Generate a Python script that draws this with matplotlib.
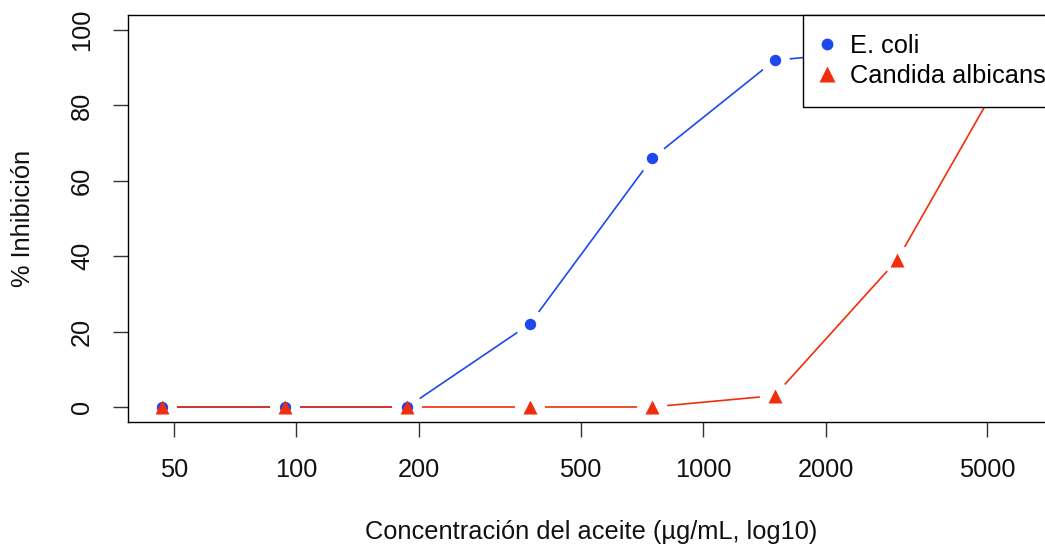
import numpy as np
import matplotlib
matplotlib.use('Agg')
import matplotlib.pyplot as plt
from matplotlib.lines import Line2D
from matplotlib.ticker import NullLocator

# datos (concentraciones en serie doble)
conc = [46.875, 93.75, 187.5, 375, 750, 1500, 3000, 6000]
ecoli = [0, 0, 0, 22, 66, 92, 95, 100]
candida = [0, 0, 0, 0, 0, 3, 39, 96]
xticks = [50, 100, 200, 500, 1000, 2000, 5000]
yticks = [0, 20, 40, 60, 80, 100]

azul = '#1c48ee'
rojo = '#f12d0c'
fs = 18.3

plt.rcParams['font.family'] = ['Liberation Sans', 'DejaVu Sans']

fig = plt.figure(figsize=(10.45, 5.47), dpi=100)
ax = fig.add_axes([128 / 1045, (547 - 422) / 547, 926 / 1045, 407 / 547])
ax.set_xscale('log')

# limites como en R (4% extra)
lx = np.log10(conc)
span = lx.max() - lx.min()
ax.set_xlim(10 ** (lx.min() - 0.04 * span), 10 ** (lx.max() + 0.04 * span))
ax.set_ylim(-4, 104)
ax.set_autoscale_on(False)


def tipo_b(x, y, color, marker, ms, gap=15):
    # lineas con hueco alrededor de los puntos (type="b")
    pts = ax.transData.transform(np.column_stack([x, y]))
    inv = ax.transData.inverted()
    for p, q in zip(pts[:-1], pts[1:]):
        d = q - p
        L = np.hypot(*d)
        if L <= 2 * gap:
            continue
        u = d / L
        a = inv.transform(p + u * gap)
        b = inv.transform(q - u * gap)
        ax.plot([a[0], b[0]], [a[1], b[1]], color=color, lw=1.2,
                solid_capstyle='butt')
    ax.plot(x, y, linestyle='none', marker=marker, ms=ms, color=color,
            mec='none')


tipo_b(conc, ecoli, azul, 'o', 8.2)
tipo_b(conc, candida, rojo, '^', 10.5)

ax.set_xticks(xticks)
ax.set_xticklabels([str(t) for t in xticks])
ax.xaxis.set_minor_locator(NullLocator())
ax.set_yticks(yticks)
ax.set_yticklabels([str(t) for t in yticks], rotation=90, va='center')
ax.tick_params(length=10.8, width=1.0, pad=15, labelsize=fs,
               color='#333333', labelcolor='#111111')
ax.tick_params(axis='y', pad=13.5)

for s in ax.spines.values():
    s.set_linewidth(1.0)
    s.set_color('black')

ax.set_xlabel('Concentración del aceite (µg/mL, log10)', fontsize=fs,
              color='#111111')
ax.xaxis.set_label_coords(0.5, -0.27)
ax.xaxis.label.set_va('center')
ax.set_ylabel('% Inhibición', fontsize=fs, color='#111111')
ax.yaxis.set_label_coords(-0.113, 0.5)
ax.yaxis.label.set_va('center')

handles = [Line2D([], [], ls='none', marker='o', ms=8.5, color=azul, mec='none'),
           Line2D([], [], ls='none', marker='^', ms=11, color=rojo, mec='none')]
leg = ax.legend(handles, ['E. coli', 'Candida albicans'], loc='upper right',
                bbox_to_anchor=(1.0119, 1), borderaxespad=0, fontsize=fs,
                frameon=True, fancybox=False, edgecolor='black',
                framealpha=1, borderpad=0.76, labelspacing=0.22,
                handlelength=0.4, handletextpad=0.7)
leg.get_frame().set_linewidth(1.0)

fig.savefig('out.png', dpi=100)
